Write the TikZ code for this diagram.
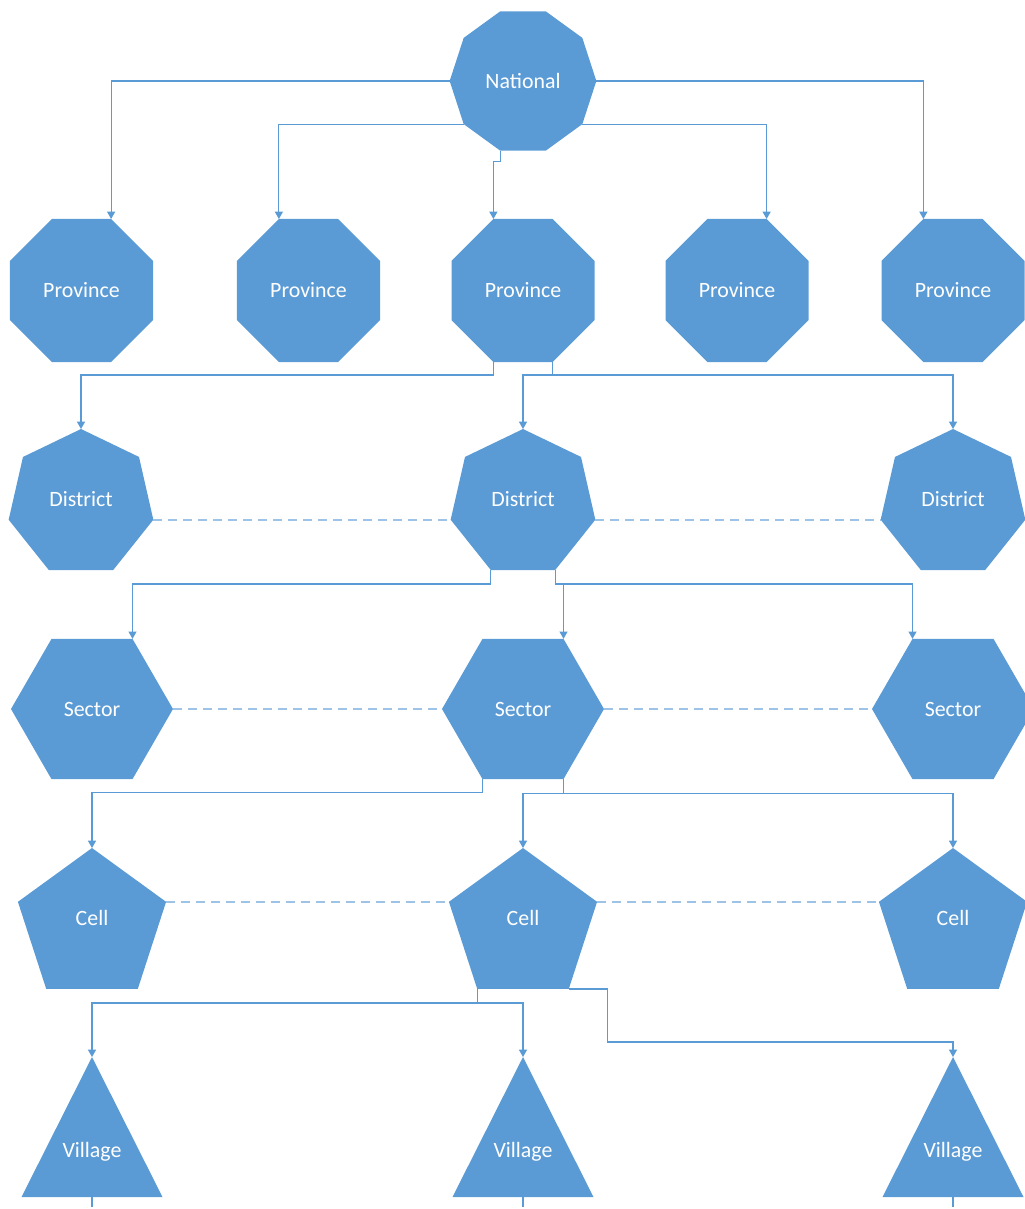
\documentclass[tikz,border=0pt]{standalone}
\usepackage{fontspec}
\setmainfont{Carlito}
\usepackage{xcolor}
\usetikzlibrary{shapes,arrows.meta,positioning}
\definecolor{shapeblue}{HTML}{5B9BD5}
\definecolor{dashblue}{HTML}{9DC3E6}

\begin{document}
\begin{tikzpicture}[
    x=0.75pt, y=-0.75pt,
    level/.style={regular polygon, fill=shapeblue, inner sep=0pt, outer sep=0pt,
                  text=white, font=\fontsize{16.4}{19}\selectfont},
    natbox/.style={level, regular polygon sides=10, minimum size=110pt},
    provbox/.style={level, regular polygon sides=8, minimum size=116.1pt},
    distbox/.style={level, regular polygon sides=7, minimum size=111.3pt, text depth=6pt},
    secbox/.style={level, regular polygon sides=6, minimum size=121.5pt},
    cellbox/.style={level, regular polygon sides=5, minimum size=116.85pt, text depth=12pt},
    villbox/.style={isosceles triangle, isosceles triangle stretches, shape border rotate=90,
                    minimum width=105.75pt, minimum height=105pt, fill=shapeblue,
                    inner sep=0pt, outer sep=0pt, text=white, text depth=21pt,
                    font=\fontsize{16.4}{19}\selectfont, anchor=apex},
    arr/.style={-{Triangle[length=5.5pt,width=6pt]}, line width=0.9pt, shapeblue},
    peer/.style={line width=1.2pt, dashblue, dash pattern=on 6.75pt off 4.5pt}
]
    \useasboundingbox (0,0) rectangle (1024,1209);

    % top level
    \node[natbox] (N) at (523,81) {National};

    % provinces
    \node[provbox] (P1) at (81.5,290.5) {Province};
    \node[provbox] (P2) at (308.5,290.5) {Province};
    \node[provbox] (P3) at (523,290.5) {Province};
    \node[provbox] (P4) at (737,290.5) {Province};
    \node[provbox] (P5) at (953,290.5) {Province};

    % districts
    \node[distbox] (D1) at (81,503.2) {District};
    \node[distbox] (D2) at (523,503.2) {District};
    \node[distbox] (D3) at (953,503.2) {District};

    % sectors
    \node[secbox] (S1) at (92,709) {Sector};
    \node[secbox] (S2) at (523,709) {Sector};
    \node[secbox] (S3) at (953,709) {Sector};

    % cells
    \node[cellbox] (C1) at (92,925.9) {Cell};
    \node[cellbox] (C2) at (523,925.9) {Cell};
    \node[cellbox] (C3) at (953,925.9) {Cell};

    % villages
    \node[villbox] (V1) at (92,1057) {Village};
    \node[villbox] (V2) at (523,1057) {Village};
    \node[villbox] (V3) at (953,1057) {Village};

    \draw[arr] (N.corner 4) -| (P1.corner 1);
    \draw[arr] (N.corner 5) -| (P2.corner 2);
    \draw[arr] (N.corner 6) -- ++(0,11) -| (P3.corner 2);
    \draw[arr] (N.corner 8) -| (P4.corner 1);
    \draw[arr] (N.corner 9) -| (P5.corner 2);

    \draw[arr] (P3.corner 5) -- ++(0,13) -| (D1.corner 1);
    \draw[arr] (P3.corner 6) -- ++(0,13) -| (D2.corner 1);
    \draw[arr] (P3.corner 6) -- ++(0,13) -| (D3.corner 1);

    \draw[arr] (D2.corner 4) -- ++(0,14) -| (S1.corner 1);
    \draw[arr] (D2.corner 5) -- ++(0,14) -| (S2.corner 1);
    \draw[arr] (D2.corner 5) -- ++(0,14) -| (S3.corner 2);

    \draw[arr] (S2.corner 4) -- ++(0,13) -| (C1.corner 1);
    \draw[arr] (S2.corner 5) -- ++(0,14) -| (C2.corner 1);
    \draw[arr] (S2.corner 5) -- ++(0,14) -| (C3.corner 1);

    \draw[arr] (C2.corner 3) -- ++(0,14) -| (V1.apex);
    \draw[arr] (C2.corner 3) -- ++(0,14) -| (V2.apex);
    \draw[arr] (C2.corner 4) -- ++(39,0) -- ++(0,53) -| (V3.apex);

    % stubs below villages
    \draw[line width=0.9pt, shapeblue] (V1.lower side) -- ++(0,10);
    \draw[line width=0.9pt, shapeblue] (V2.lower side) -- ++(0,10);
    \draw[line width=0.9pt, shapeblue] (V3.lower side) -- ++(0,10);

    % dashed peer links
    \draw[peer] (D1.corner 6) -- (D2.corner 3);
    \draw[peer] (D2.corner 6) -- (D3.corner 3);
    \draw[peer] (S1.corner 6) -- (S2.corner 3);
    \draw[peer] (S2.corner 6) -- (S3.corner 3);
    \draw[peer] (C1.corner 5) -- (C2.corner 2);
    \draw[peer] (C2.corner 5) -- (C3.corner 2);
\end{tikzpicture}
\end{document}
